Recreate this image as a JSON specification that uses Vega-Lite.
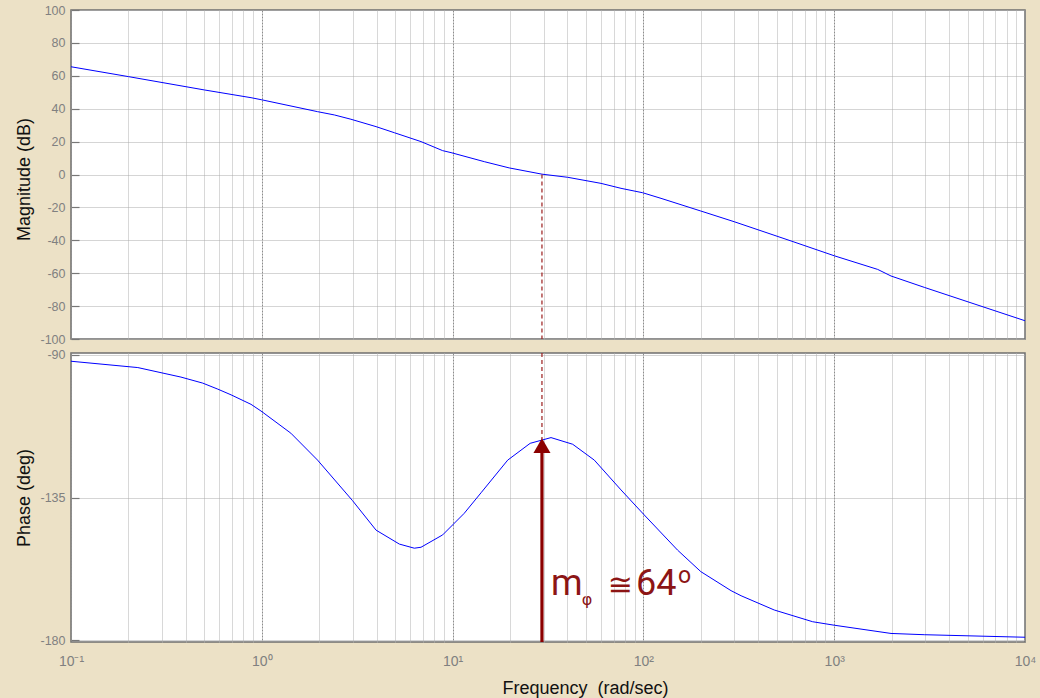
{
  "$schema": "https://vega.github.io/schema/vega-lite/v6.json",
  "background": "#ECE1C6",
  "autosize": {"type": "pad"},
  "padding": {"left": 14, "top": 3, "right": 40, "bottom": 40},
  "spacing": 14,
  "bounds": "flush",
  "config": {
    "view": {"stroke": "#6f6f6f", "strokeWidth": 1.5, "fill": "white"},
    "axis": {
      "labelFont": "Liberation Sans", "labelFontSize": 12.5, "labelColor": "#808080",
      "titleFont": "Liberation Sans", "titleFontSize": 18, "titleFontWeight": "normal", "titleColor": "#111111",
      "domain": false, "gridColor": "#aaaaaa", "gridDash": [1, 1], "gridOpacity": 1, "gridWidth": 1,
      "labelFlush": false, "labelOverlap": false, "labelBound": false
    }
  },
  "datasets": {
    "mag": [
      {"f": 0.1, "db": 65.5}, {"f": 0.2, "db": 59.5}, {"f": 0.5, "db": 51.4}, {"f": 0.878, "db": 46.7},
      {"f": 1.0, "db": 45.4}, {"f": 1.96, "db": 38.2}, {"f": 2.4, "db": 36.2}, {"f": 2.93, "db": 33.6},
      {"f": 3.97, "db": 29.1}, {"f": 4.95, "db": 25.4}, {"f": 6.83, "db": 20}, {"f": 8.87, "db": 14.5},
      {"f": 9.81, "db": 13.3}, {"f": 14.66, "db": 7.8}, {"f": 19.8, "db": 4}, {"f": 29.4, "db": 0.2},
      {"f": 40.1, "db": -1.7}, {"f": 60, "db": -5.4}, {"f": 76.3, "db": -8.4}, {"f": 99.2, "db": -11.1},
      {"f": 123.7, "db": -14.5}, {"f": 200, "db": -22.2}, {"f": 299, "db": -28.7}, {"f": 594, "db": -40.4},
      {"f": 1000, "db": -49.4}, {"f": 1690, "db": -57.7}, {"f": 1985, "db": -61.7}, {"f": 2965, "db": -68.6},
      {"f": 10000, "db": -88.9}
    ],
    "phase": [
      {"f": 0.1, "deg": -92}, {"f": 0.224, "deg": -94}, {"f": 0.377, "deg": -97}, {"f": 0.49, "deg": -98.9},
      {"f": 0.588, "deg": -100.8}, {"f": 0.69, "deg": -102.6}, {"f": 0.878, "deg": -105.6}, {"f": 0.99, "deg": -107.7},
      {"f": 1.42, "deg": -114.7}, {"f": 1.96, "deg": -123.2}, {"f": 2.99, "deg": -136}, {"f": 3.97, "deg": -145.3},
      {"f": 5.26, "deg": -149.7}, {"f": 6.3, "deg": -151}, {"f": 6.83, "deg": -150.7}, {"f": 8.87, "deg": -146.8},
      {"f": 11.5, "deg": -140}, {"f": 14.1, "deg": -133.5}, {"f": 19.45, "deg": -123.2}, {"f": 25.5, "deg": -117.9},
      {"f": 32.8, "deg": -116.1}, {"f": 42.6, "deg": -118.2}, {"f": 55.3, "deg": -123.2}, {"f": 76.3, "deg": -132.6},
      {"f": 101, "deg": -140.5}, {"f": 151, "deg": -151.6}, {"f": 200, "deg": -158.4}, {"f": 288, "deg": -164.4},
      {"f": 325, "deg": -166}, {"f": 485, "deg": -170.5}, {"f": 771, "deg": -174.2}, {"f": 1000, "deg": -175.3},
      {"f": 1985, "deg": -177.9}, {"f": 2965, "deg": -178.3}, {"f": 10000, "deg": -179.1}
    ],
    "dashTop": [{"f": 29.4, "y1": 0, "y2": -100}],
    "dashBottom": [{"f": 29.4, "y1": -89.4, "y2": -116.5}],
    "arrowShaft": [{"f": 29.4, "y1": -119, "y2": -180.6}],
    "arrowHead": [{"f": 29.4, "y": -118.6}],
    "labelBig": [
      {"f": 32.8, "y": -165.8, "t": "m"},
      {"f": 91.5, "y": -165.8, "t": "64"}
    ],
    "labelSub": [{"f": 47.5, "y": -169.0, "t": "φ"}],
    "labelCong": [{"f": 65.0, "y": -165.8, "t": "≅"}],
    "labelDeg": [{"f": 152, "y": -161.9, "t": "o"}]
  },
  "vconcat": [
    {
      "width": 954,
      "height": 329,
      "layer": [
        {
          "data": {"name": "mag"},
          "mark": {"type": "line", "color": "#0000ff", "strokeWidth": 1},
          "encoding": {
            "x": {
              "field": "f", "type": "quantitative",
              "scale": {"type": "log", "domain": [0.1, 10000], "nice": false},
              "axis": {
                "values": [0.1,0.2,0.3,0.4,0.5,0.6,0.7,0.8,0.9,1,2,3,4,5,6,7,8,9,10,20,30,40,50,60,70,80,90,100,200,300,400,500,600,700,800,900,1000,2000,3000,4000,5000,6000,7000,8000,9000,10000],
                "labels": false, "ticks": false, "title": null,
                "gridColor": {"condition": {"test": "indexof([0.1,1,10,100,1000,10000], datum.value) >= 0", "value": "#8c8c8c"}, "value": "#b0b0b0"},
                "gridDash": {"condition": {"test": "indexof([0.1,1,10,100,1000,10000], datum.value) >= 0", "value": [2, 1]}, "value": [1, 1]}
              }
            },
            "y": {
              "field": "db", "type": "quantitative",
              "scale": {"domain": [-100, 100], "nice": false, "zero": false},
              "axis": {
                "values": [-100,-80,-60,-40,-20,0,20,40,60,80,100], "tickCount": 30,
                "labelExpr": "'' + datum.value", "labelOverlap": false,
                "ticks": true, "tickSize": -8, "tickColor": "#777777", "tickWidth": 1.2, "labelPadding": 14,
                "title": "Magnitude (dB)", "titleX": -56, "titleY": 169, "titleAngle": 270, "titleBaseline": "top"
              }
            }
          }
        },
        {
          "data": {"name": "dashTop"},
          "mark": {"type": "rule", "color": "#9b1c1c", "strokeWidth": 1.2, "strokeDash": [4, 3]},
          "encoding": {
            "x": {"field": "f", "type": "quantitative"},
            "y": {"field": "y1", "type": "quantitative"},
            "y2": {"field": "y2"}
          }
        }
      ]
    },
    {
      "width": 954,
      "height": 289,
      "layer": [
        {
          "data": {"name": "phase"},
          "mark": {"type": "line", "color": "#0000ff", "strokeWidth": 1},
          "encoding": {
            "x": {
              "field": "f", "type": "quantitative",
              "scale": {"type": "log", "domain": [0.1, 10000], "nice": false},
              "axis": {
                "values": [0.1,0.2,0.3,0.4,0.5,0.6,0.7,0.8,0.9,1,2,3,4,5,6,7,8,9,10,20,30,40,50,60,70,80,90,100,200,300,400,500,600,700,800,900,1000,2000,3000,4000,5000,6000,7000,8000,9000,10000],
                "labelExpr": "datum.value === 0.1 ? '10⁻¹' : datum.value === 1 ? '10⁰' : datum.value === 10 ? '10¹' : datum.value === 100 ? '10²' : datum.value === 1000 ? '10³' : datum.value === 10000 ? '10⁴' : ''",
                "labelFontSize": 14, "labelPadding": 12, "ticks": false, "labelOverlap": false,
                "title": "Frequency \u00a0(rad/sec)", "titleX": 514, "titleY": 51, "titleBaseline": "alphabetic",
                "gridColor": {"condition": {"test": "indexof([0.1,1,10,100,1000,10000], datum.value) >= 0", "value": "#8c8c8c"}, "value": "#b0b0b0"},
                "gridDash": {"condition": {"test": "indexof([0.1,1,10,100,1000,10000], datum.value) >= 0", "value": [2, 1]}, "value": [1, 1]}
              }
            },
            "y": {
              "field": "deg", "type": "quantitative",
              "scale": {"domain": [-180.6, -89.4], "nice": false, "zero": false},
              "axis": {
                "values": [-180, -135, -90], "tickCount": 10,
                "labelExpr": "'' + datum.value", "labelOverlap": false,
                "ticks": true, "tickSize": -8, "tickColor": "#777777", "tickWidth": 1.2, "labelPadding": 14,
                "title": "Phase (deg)", "titleX": -56, "titleY": 144.5, "titleAngle": 270, "titleBaseline": "top"
              }
            }
          }
        },
        {
          "data": {"name": "dashBottom"},
          "mark": {"type": "rule", "color": "#9b1c1c", "strokeWidth": 1.2, "strokeDash": [4, 3]},
          "encoding": {
            "x": {"field": "f", "type": "quantitative"},
            "y": {"field": "y1", "type": "quantitative"},
            "y2": {"field": "y2"}
          }
        },
        {
          "data": {"name": "arrowShaft"},
          "mark": {"type": "rule", "color": "#8b0000", "strokeWidth": 3.2},
          "encoding": {
            "x": {"field": "f", "type": "quantitative"},
            "y": {"field": "y1", "type": "quantitative"},
            "y2": {"field": "y2"}
          }
        },
        {
          "data": {"name": "arrowHead"},
          "mark": {"type": "point", "shape": "triangle-up", "filled": true, "color": "#8b0000", "size": 290, "opacity": 1},
          "encoding": {
            "x": {"field": "f", "type": "quantitative"},
            "y": {"field": "y", "type": "quantitative"}
          }
        },
        {
          "data": {"name": "labelBig"},
          "mark": {"type": "text", "align": "left", "baseline": "alphabetic", "font": "Roboto", "fontSize": 36, "color": "#8c1515"},
          "encoding": {
            "x": {"field": "f", "type": "quantitative"},
            "y": {"field": "y", "type": "quantitative"},
            "text": {"field": "t"}
          }
        },
        {
          "data": {"name": "labelSub"},
          "mark": {"type": "text", "align": "left", "baseline": "alphabetic", "font": "DejaVu Sans", "fontSize": 16, "color": "#8c1515"},
          "encoding": {
            "x": {"field": "f", "type": "quantitative"},
            "y": {"field": "y", "type": "quantitative"},
            "text": {"field": "t"}
          }
        },
        {
          "data": {"name": "labelCong"},
          "mark": {"type": "text", "align": "left", "baseline": "alphabetic", "font": "DejaVu Sans", "fontSize": 30, "color": "#8c1515"},
          "encoding": {
            "x": {"field": "f", "type": "quantitative"},
            "y": {"field": "y", "type": "quantitative"},
            "text": {"field": "t"}
          }
        },
        {
          "data": {"name": "labelDeg"},
          "mark": {"type": "text", "align": "left", "baseline": "alphabetic", "font": "Roboto", "fontSize": 23, "color": "#8c1515"},
          "encoding": {
            "x": {"field": "f", "type": "quantitative"},
            "y": {"field": "y", "type": "quantitative"},
            "text": {"field": "t"}
          }
        }
      ]
    }
  ]
}
